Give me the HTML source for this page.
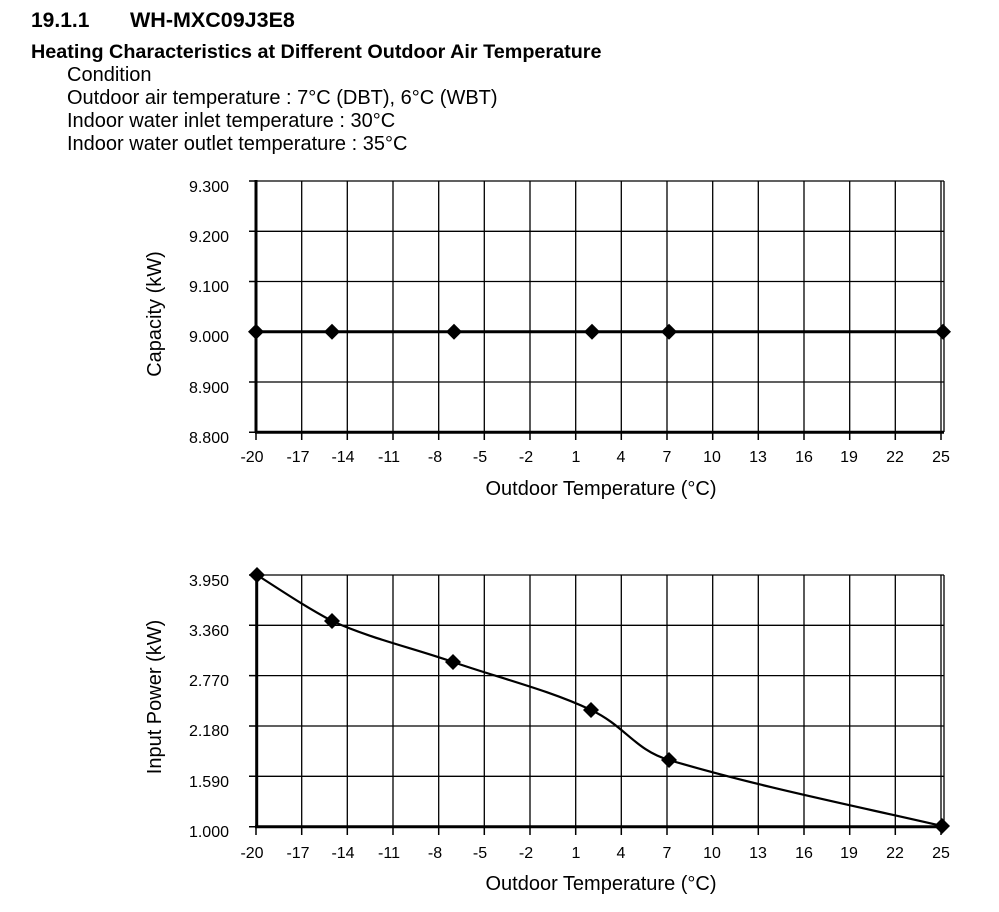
<!DOCTYPE html>
<html><head><meta charset="utf-8"><style>
html,body{margin:0;padding:0;background:#fff;}
svg{display:block;font-family:"Liberation Sans",Arial,sans-serif;}
</style></head><body>
<svg width="999" height="912" viewBox="0 0 999 912" xmlns="http://www.w3.org/2000/svg">
<text x="31" y="27" font-size="21" font-weight="bold">19.1.1</text>
<text x="130" y="27" font-size="21.5" font-weight="bold">WH-MXC09J3E8</text>
<text x="31" y="58" font-size="19.8" font-weight="bold">Heating Characteristics at Different Outdoor Air Temperature</text>
<text x="67" y="81" font-size="20">Condition</text>
<text x="67" y="104" font-size="20">Outdoor air temperature : 7°C (DBT), 6°C (WBT)</text>
<text x="67" y="127" font-size="20">Indoor water inlet temperature : 30°C</text>
<text x="67" y="150" font-size="20">Indoor water outlet temperature : 35°C</text>

<g id="c1">
<g stroke="#000" stroke-width="1.3" fill="none">
<path d="M256 181H944M256 231.3H944M256 281.5H944M256 331.7H944M256 382H944"/>
<path d="M301.7 181V432M347.3 181V432M393 181V432M438.7 181V432M484.3 181V432M530 181V432M575.7 181V432M621.3 181V432M667 181V432M712.7 181V432M758.3 181V432M804 181V432M849.7 181V432M895.3 181V432M941 181V432M944 181V432"/>
</g>
<g stroke="#000" stroke-width="1.5">
<path d="M249 181H256M249 231.3H256M249 281.5H256M249 331.7H256M249 382H256M249 432.2H256"/>
<path d="M256 432V440M301.7 432V440M347.3 432V440M393 432V440M438.7 432V440M484.3 432V440M530 432V440M575.7 432V440M621.3 432V440M667 432V440M712.7 432V440M758.3 432V440M804 432V440M849.7 432V440M895.3 432V440M941 432V440"/>
</g>
<path d="M256 180V433M255 432.2H944" stroke="#000" stroke-width="3" fill="none"/>
<path d="M256 331.7H944" stroke="#000" stroke-width="3"/>
<g fill="#000">
<path d="M256 323.7l8 8-8 8-8-8z"/><path d="M332 323.7l8 8-8 8-8-8z"/><path d="M454 323.7l8 8-8 8-8-8z"/><path d="M592 323.7l8 8-8 8-8-8z"/><path d="M669 323.7l8 8-8 8-8-8z"/><path d="M943 323.7l8 8-8 8-8-8z"/>
</g>
<g font-size="16" text-anchor="end">
<text x="229" y="192">9.300</text><text x="229" y="242">9.200</text><text x="229" y="292">9.100</text><text x="229" y="342">9.000</text><text x="229" y="393">8.900</text><text x="229" y="443">8.800</text>
</g>
<g font-size="16" text-anchor="middle">
<text x="252" y="462">-20</text><text x="298" y="462">-17</text><text x="343" y="462">-14</text><text x="389" y="462">-11</text><text x="435" y="462">-8</text><text x="480" y="462">-5</text><text x="526" y="462">-2</text><text x="576" y="462">1</text><text x="621" y="462">4</text><text x="667" y="462">7</text><text x="712" y="462">10</text><text x="758" y="462">13</text><text x="804" y="462">16</text><text x="849" y="462">19</text><text x="895" y="462">22</text><text x="941" y="462">25</text>
</g>
<text x="601" y="495" font-size="20" text-anchor="middle">Outdoor Temperature (°C)</text>
<text transform="translate(161 314) rotate(-90)" font-size="20" text-anchor="middle">Capacity (kW)</text>
</g>

<g id="c2">
<g stroke="#000" stroke-width="1.3" fill="none">
<path d="M256 575H944M256 625.3H944M256 675.6H944M256 726H944M256 776.3H944"/>
<path d="M301.7 575V827M347.3 575V827M393 575V827M438.7 575V827M484.3 575V827M530 575V827M575.7 575V827M621.3 575V827M667 575V827M712.7 575V827M758.3 575V827M804 575V827M849.7 575V827M895.3 575V827M941 575V827M944 575V827"/>
</g>
<g stroke="#000" stroke-width="1.5">
<path d="M249 575H256M249 625.3H256M249 675.6H256M249 726H256M249 776.3H256M249 826.7H256"/>
<path d="M256 827V835M301.7 827V835M347.3 827V835M393 827V835M438.7 827V835M484.3 827V835M530 827V835M575.7 827V835M621.3 827V835M667 827V835M712.7 827V835M758.3 827V835M804 827V835M849.7 827V835M895.3 827V835M941 827V835"/>
</g>
<path d="M256.7 574V828M255 826.7H944" stroke="#000" stroke-width="3" fill="none"/>
<path d="M257 575 C282 591 304 606 332 621 C372 639 413 648 453 662 C499 678 549 690 591 710 C625 726 635 750 669 760 C760 787 851 805 942 826" stroke="#000" stroke-width="2.2" fill="none"/>
<g fill="#000">
<path d="M257 567l8 8-8 8-8-8z"/><path d="M332 613l8 8-8 8-8-8z"/><path d="M453 654l8 8-8 8-8-8z"/><path d="M591 702l8 8-8 8-8-8z"/><path d="M669 752l8 8-8 8-8-8z"/><path d="M942 818l8 8-8 8-8-8z"/>
</g>
<g font-size="16" text-anchor="end">
<text x="229" y="586">3.950</text><text x="229" y="636">3.360</text><text x="229" y="686">2.770</text><text x="229" y="736">2.180</text><text x="229" y="787">1.590</text><text x="229" y="837">1.000</text>
</g>
<g font-size="16" text-anchor="middle">
<text x="252" y="858">-20</text><text x="298" y="858">-17</text><text x="343" y="858">-14</text><text x="389" y="858">-11</text><text x="435" y="858">-8</text><text x="480" y="858">-5</text><text x="526" y="858">-2</text><text x="576" y="858">1</text><text x="621" y="858">4</text><text x="667" y="858">7</text><text x="712" y="858">10</text><text x="758" y="858">13</text><text x="804" y="858">16</text><text x="849" y="858">19</text><text x="895" y="858">22</text><text x="941" y="858">25</text>
</g>
<text x="601" y="890" font-size="20" text-anchor="middle">Outdoor Temperature (°C)</text>
<text transform="translate(161 697) rotate(-90)" font-size="20" text-anchor="middle">Input Power (kW)</text>
</g>
</svg>
</body></html>
